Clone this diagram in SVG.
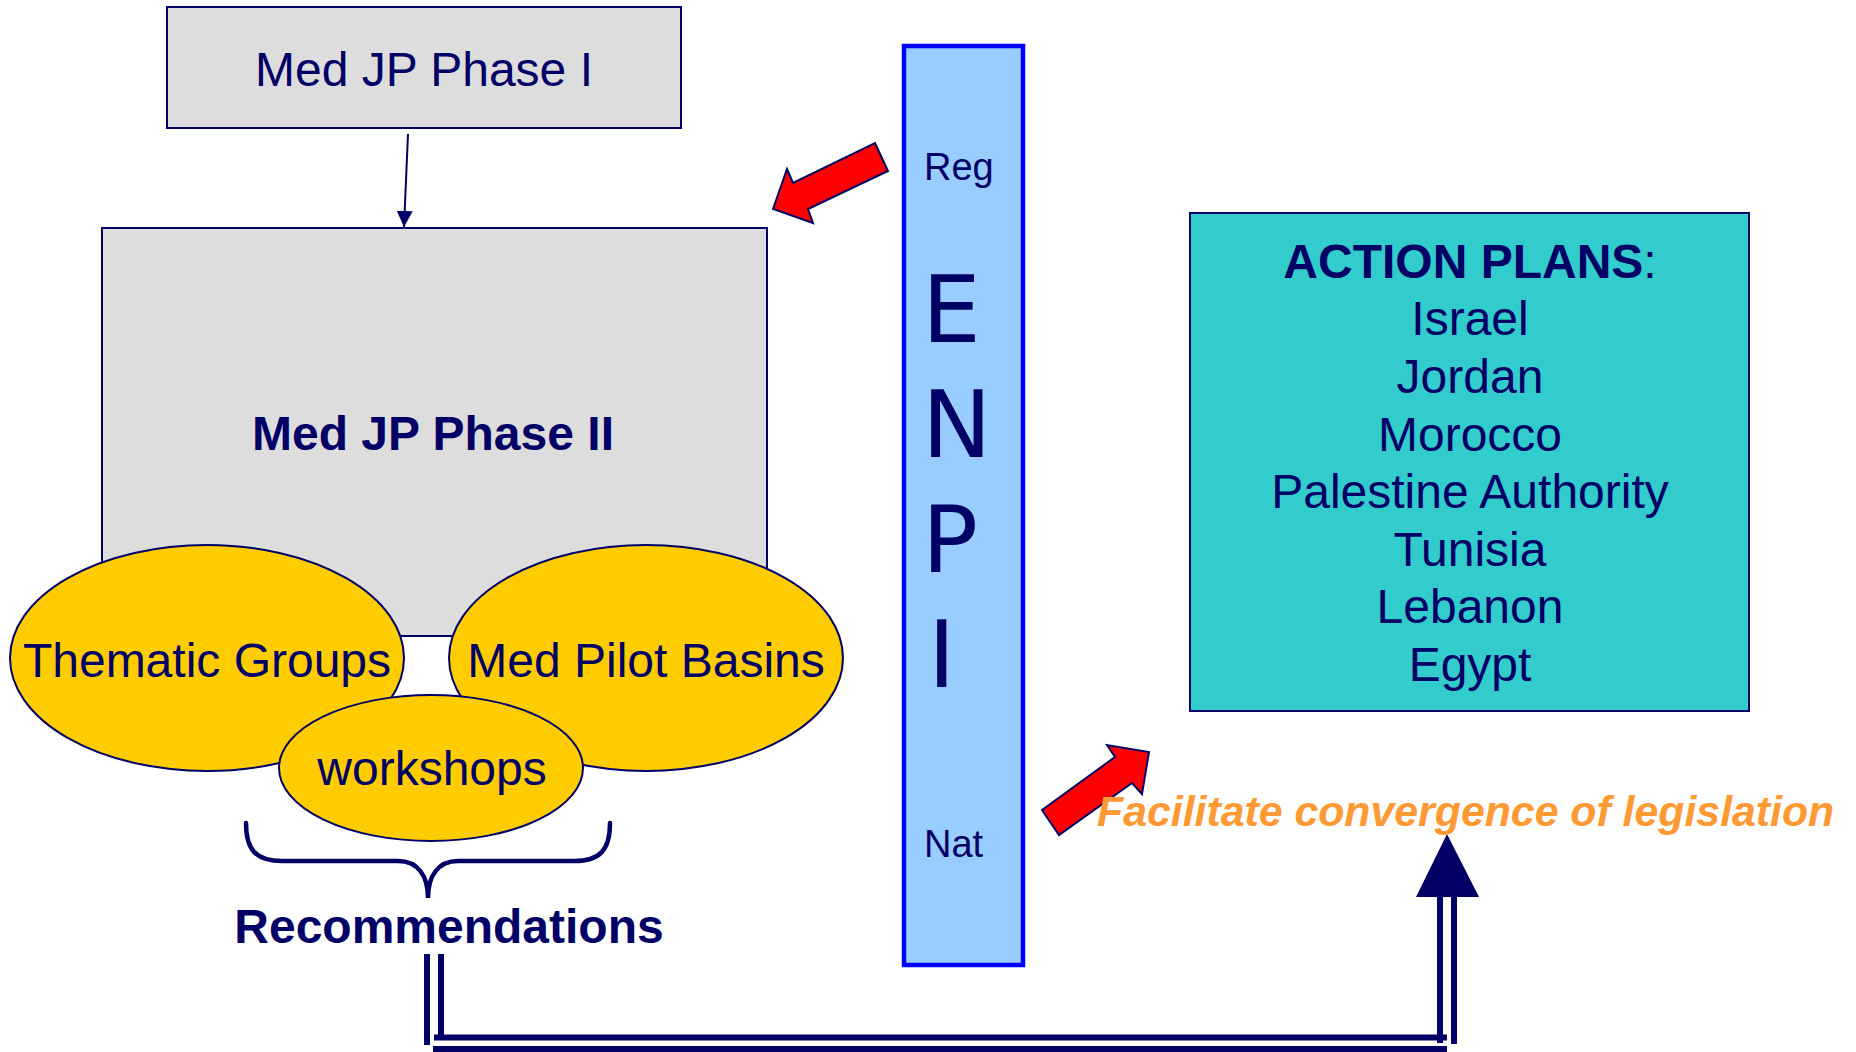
<svg xmlns="http://www.w3.org/2000/svg" width="1856" height="1052" viewBox="0 0 1856 1052">
<defs>
<style>
.t{font-family:"Liberation Sans",Arial,sans-serif;fill:#000066;}
.box{fill:#DDDDDD;stroke:#000066;stroke-width:2;}
.ell{fill:#FFCC00;stroke:#000066;stroke-width:2;}
.red{fill:#FF0000;stroke:#000066;stroke-width:2;stroke-linejoin:miter;}
.dl{stroke:#000066;stroke-width:6;fill:none;}
</style>
<marker id="ah" markerWidth="16" markerHeight="16" refX="16" refY="8" orient="auto" markerUnits="userSpaceOnUse" viewBox="0 0 16 16">
<path d="M0,0 L16,8 L0,16 Z" fill="#000066"/>
</marker>
</defs>
<rect width="1856" height="1052" fill="#FFFFFF"/>

<g id="phase1">
<rect class="box" x="167" y="7" width="514" height="121"/>
<text class="t" x="424" y="86" font-size="48" text-anchor="middle">Med JP Phase I</text>
</g>

<g id="phase2">
<rect class="box" x="102" y="228" width="665" height="408"/>
<text class="t" x="433" y="450" font-size="48" font-weight="bold" text-anchor="middle">Med JP Phase II</text>
</g>

<g id="thematic">
<ellipse class="ell" cx="207" cy="658" rx="197" ry="113"/>
<text class="t" x="207" y="677" font-size="48" text-anchor="middle">Thematic Groups</text>
</g>
<g id="basins">
<ellipse class="ell" cx="646" cy="658" rx="197" ry="113"/>
<text class="t" x="646" y="677" font-size="48" text-anchor="middle">Med Pilot Basins</text>
</g>
<g id="workshops">
<ellipse class="ell" cx="431" cy="768" rx="152" ry="73"/>
<text class="t" x="432" y="785" font-size="48" text-anchor="middle">workshops</text>
</g>

<g id="enpi">
<rect x="904" y="46" width="119" height="919" fill="#99CCFF" stroke="#0000FF" stroke-width="4.5"/>
<text class="t" x="924" y="180" font-size="38">Reg</text>
<g font-family="'DejaVu Sans',sans-serif" font-size="93" fill="#000066">
<text x="922" y="342">E</text>
<text x="922" y="457">N</text>
<text x="922" y="572">P</text>
<text x="928" y="687">I</text>
</g>
<text class="t" x="924" y="857" font-size="38">Nat</text>
</g>

<g id="action-plans">
<rect x="1190" y="213" width="559" height="498" fill="#33CCCC" stroke="#000066" stroke-width="2"/>
<text class="t" x="1470" y="278" font-size="48" text-anchor="middle"><tspan font-weight="bold">ACTION PLANS</tspan>:</text>
<text class="t" x="1470" y="335" font-size="48" text-anchor="middle">Israel</text>
<text class="t" x="1470" y="393" font-size="48" text-anchor="middle">Jordan</text>
<text class="t" x="1470" y="451" font-size="48" text-anchor="middle">Morocco</text>
<text class="t" x="1470" y="508" font-size="48" text-anchor="middle">Palestine Authority</text>
<text class="t" x="1470" y="566" font-size="48" text-anchor="middle">Tunisia</text>
<text class="t" x="1470" y="623" font-size="48" text-anchor="middle">Lebanon</text>
<text class="t" x="1470" y="681" font-size="48" text-anchor="middle">Egypt</text>
</g>

<g id="recommendations">
<path d="M246,823 C246,850 256,861 282,861 L398,861 C418,861 428,876 428,898 C428,876 438,861 458,861 L574,861 C600,861 610,850 610,823" fill="none" stroke="#000066" stroke-width="4.5" stroke-linecap="round"/>
<text class="t" x="449" y="943" font-size="48" font-weight="bold" text-anchor="middle">Recommendations</text>
</g>

<g id="connectors">
<line x1="408" y1="134" x2="404" y2="227" stroke="#000066" stroke-width="2" marker-end="url(#ah)"/>
<polygon class="red" points="773,209 787,169 793,183 875,143 888,171 808,209 813,223"/>
<polygon class="red" points="1042,810 1115,757 1107,745 1149,752 1142,794 1132,783 1059,835"/>
<line class="dl" x1="427" y1="954" x2="427" y2="1045"/>
<line class="dl" x1="441" y1="954" x2="441" y2="1040"/>
<line class="dl" x1="434" y1="1037.5" x2="1447" y2="1037.5"/>
<line class="dl" x1="433" y1="1049" x2="1447" y2="1049"/>
<line class="dl" x1="1440" y1="896" x2="1440" y2="1043"/>
<line class="dl" x1="1454" y1="896" x2="1454" y2="1044"/>
<polygon points="1447,834 1416,897 1479,897" fill="#000066"/>
</g>

<g id="facilitate">
<text x="1097" y="826" font-family="'Liberation Sans',Arial,sans-serif" font-size="42.8" font-weight="bold" font-style="italic" fill="#FF9933">Facilitate convergence of legislation</text>
</g>
</svg>
